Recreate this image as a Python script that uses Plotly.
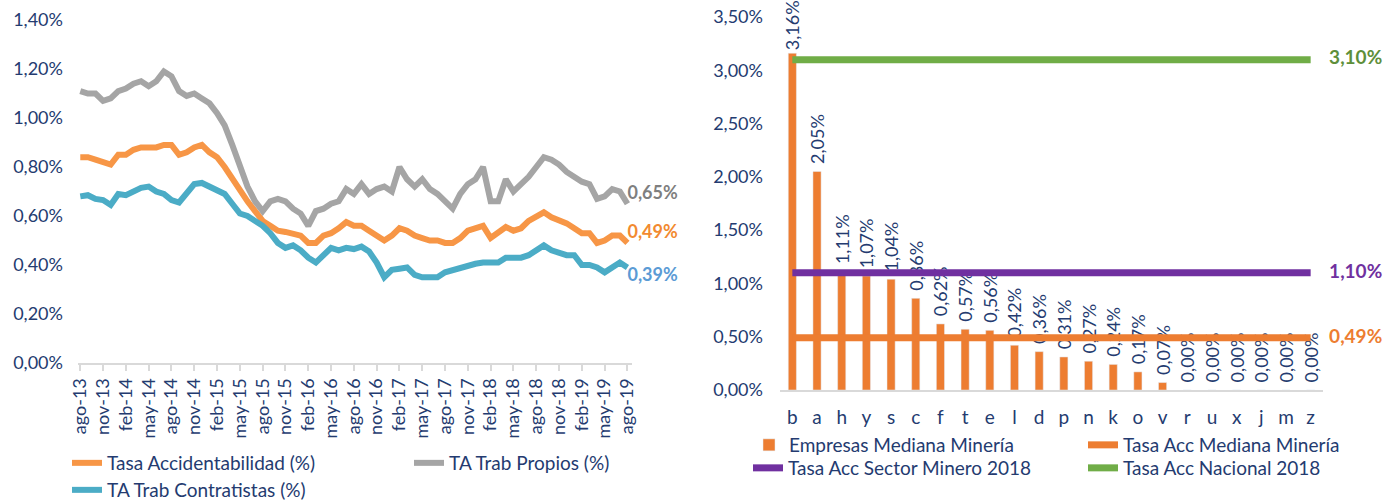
import numpy as np
import plotly.graph_objects as go

# ---------------- Left chart data (values in %) ----------------
month_tick_labels = ["ago-13", "nov-13", "feb-14", "may-14", "ago-14", "nov-14", "feb-15", "may-15",
                     "ago-15", "nov-15", "feb-16", "may-16", "ago-16", "nov-16", "feb-17", "may-17",
                     "ago-17", "nov-17", "feb-18", "may-18", "ago-18", "nov-18", "feb-19", "may-19",
                     "ago-19"]

tasa_accidentabilidad = [0.84, 0.84, 0.83, 0.82, 0.81, 0.85, 0.85, 0.87, 0.88, 0.88, 0.88, 0.89, 0.89,
                         0.85, 0.86, 0.88, 0.89, 0.86, 0.84, 0.80, 0.75, 0.70, 0.66, 0.62, 0.58, 0.56,
                         0.54, 0.535, 0.53, 0.52, 0.49, 0.49, 0.52, 0.53, 0.55, 0.575, 0.56, 0.56, 0.54,
                         0.52, 0.50, 0.52, 0.55, 0.54, 0.52, 0.51, 0.50, 0.50, 0.49, 0.49, 0.51, 0.54,
                         0.55, 0.56, 0.51, 0.53, 0.555, 0.54, 0.55, 0.58, 0.60, 0.615, 0.595, 0.585,
                         0.57, 0.55, 0.53, 0.53, 0.49, 0.50, 0.52, 0.52, 0.49]

ta_trab_propios = [1.11, 1.10, 1.10, 1.07, 1.08, 1.11, 1.12, 1.14, 1.15, 1.13, 1.15, 1.19, 1.17, 1.11,
                   1.09, 1.10, 1.08, 1.06, 1.02, 0.97, 0.89, 0.80, 0.72, 0.66, 0.62, 0.66, 0.67, 0.66,
                   0.63, 0.61, 0.56, 0.62, 0.63, 0.65, 0.66, 0.71, 0.69, 0.73, 0.69, 0.71, 0.72, 0.70,
                   0.80, 0.75, 0.72, 0.75, 0.71, 0.69, 0.66, 0.63, 0.69, 0.73, 0.75, 0.80, 0.66, 0.66,
                   0.75, 0.70, 0.73, 0.76, 0.80, 0.84, 0.83, 0.81, 0.78, 0.76, 0.74, 0.73, 0.67, 0.68,
                   0.71, 0.70, 0.65]

ta_trab_contratistas = [0.68, 0.685, 0.67, 0.665, 0.645, 0.69, 0.685, 0.70, 0.715, 0.72, 0.70, 0.69,
                        0.665, 0.655, 0.69, 0.73, 0.735, 0.72, 0.70, 0.69, 0.65, 0.61, 0.60, 0.58,
                        0.56, 0.53, 0.49, 0.47, 0.48, 0.46, 0.43, 0.41, 0.44, 0.47, 0.46, 0.47, 0.465,
                        0.475, 0.455, 0.41, 0.35, 0.38, 0.385, 0.39, 0.36, 0.35, 0.35, 0.35, 0.37,
                        0.38, 0.39, 0.40, 0.405, 0.41, 0.41, 0.41, 0.43, 0.43, 0.43, 0.44, 0.46, 0.48,
                        0.46, 0.45, 0.44, 0.44, 0.40, 0.40, 0.39, 0.37, 0.39, 0.41, 0.39]

# ---------------- Right chart data (values in %) ----------------
empresas = ["b", "a", "h", "y", "s", "c", "f", "t", "e", "l", "d", "p", "n", "k", "o", "v",
            "r", "u", "x", "j", "m", "z"]
empresas_valores = [3.16, 2.05, 1.11, 1.07, 1.04, 0.86, 0.62, 0.57, 0.56, 0.42, 0.36, 0.31, 0.27,
                    0.24, 0.17, 0.07, 0.00, 0.00, 0.00, 0.00, 0.00, 0.00]
tasa_acc_mediana = 0.49
tasa_acc_sector_minero_2018 = 1.10
tasa_acc_nacional_2018 = 3.10

NAVY = "#243B70"
FONT = "Lato"
NB = "\u00a0"

def frac(vals):
    return list(np.array(vals, dtype=float) / 100.0)

def pct(v):
    return ("%.2f%%" % v).replace(".", ",")

months = list(range(len(tasa_accidentabilidad)))
tick_positions = list(range(0, len(months), 3))

fig = go.Figure()

def add_left(name, vals, color, label_color, pos, legend):
    y = frac(vals)
    txt = [""] * (len(y) - 1) + [pct(vals[-1])]
    fig.add_trace(go.Scatter(
        x=months, y=y, mode="lines+text", name=name,
        line=dict(color=color, width=6),
        text=txt, textposition=pos,
        textfont=dict(color=label_color, size=18, family=FONT, weight="bold"),
        xaxis="x", yaxis="y", legend=legend, cliponaxis=False,
    ))

add_left("Tasa Accidentabilidad (%)", tasa_accidentabilidad, "#F79646", "#F28A30", "top right", "legend")
add_left("TA Trab Propios (%)", ta_trab_propios, "#A5A5A5", "#7F7F7F", "top right", "legend")
add_left("TA Trab Contratistas (%)", ta_trab_contratistas, "#4BACC6", "#5B9BD5", "bottom right", "legend3")

# Right chart: bar labels sit a little above each bar (the tallest one is squeezed in by the top edge)
bar_label_pad = [0] + [1] * (len(empresas) - 1)
bar_labels = [NB * p + pct(v) for p, v in zip(bar_label_pad, empresas_valores)]

fig.add_trace(go.Bar(
    x=empresas, y=frac(empresas_valores), name="Empresas Mediana Minería",
    marker=dict(color="#ED7D31"), width=0.33,
    text=bar_labels, texttemplate="%{text}", textposition="outside", textangle=-90,
    constraintext="none", cliponaxis=False,
    textfont=dict(color=NAVY, size=18, family=FONT),
    xaxis="x2", yaxis="y2", legend="legend2",
))

def add_right_line(name, value, color, label_color, legend):
    n = len(empresas)
    txt = [""] * (n - 1) + [NB * 4 + pct(value)]
    fig.add_trace(go.Scatter(
        x=empresas, y=[value / 100.0] * n, mode="lines+text", name=name,
        line=dict(color=color, width=7),
        text=txt, textposition="middle right",
        textfont=dict(color=label_color, size=19, family=FONT, weight="bold"),
        xaxis="x2", yaxis="y2", legend=legend, cliponaxis=False,
    ))

add_right_line("Tasa Acc Mediana Minería", tasa_acc_mediana, "#ED7D31", "#ED7D31", "legend5")
add_right_line("Tasa Acc Sector Minero 2018", tasa_acc_sector_minero_2018, "#7030A0", "#7030A0", "legend4")
add_right_line("Tasa Acc Nacional 2018", tasa_acc_nacional_2018, "#70AD47", "#5E8F3A", "legend6")

W, H = 1390, 502
legend_common = dict(orientation="h", font=dict(color=NAVY, size=19, family=FONT),
                     bgcolor="rgba(0,0,0,0)", xanchor="left", yanchor="middle",
                     traceorder="normal")

fig.update_layout(
    width=W, height=H,
    margin=dict(l=0, r=0, t=0, b=0, autoexpand=False),
    paper_bgcolor="white", plot_bgcolor="white",
    separators=",.",
    font=dict(family=FONT, color=NAVY, size=16),
    xaxis=dict(
        domain=[78 / W, 632 / W], range=[-0.3, 72.6], automargin=False,
        tickvals=tick_positions, ticktext=month_tick_labels, tickangle=-90,
        ticks="outside", ticklen=6, tickcolor="#D9D9D9", tickwidth=2,
        showline=True, linecolor="#D9D9D9", linewidth=2,
        showgrid=False, zeroline=False,
        tickfont=dict(color=NAVY, size=18, family=FONT),
    ),
    yaxis=dict(
        domain=[1 - 363 / H, 1 - 20 / H], range=[0, 0.014], automargin=False,
        tickvals=[0, 0.002, 0.004, 0.006, 0.008, 0.010, 0.012, 0.014], tickformat=".2%",
        showgrid=False, zeroline=False, showline=False, ticks="",
        ticklabelstandoff=14,
        tickfont=dict(color=NAVY, size=18, family=FONT),
    ),
    xaxis2=dict(
        domain=[780 / W, 1323 / W], anchor="y2", type="category", automargin=False,
        range=[-0.5, 21.5],
        showline=True, linecolor="#D9D9D9", linewidth=2,
        showgrid=False, zeroline=False, ticks="",
        ticklabelstandoff=9,
        tickfont=dict(color=NAVY, size=19, family=FONT),
    ),
    yaxis2=dict(
        domain=[1 - 390 / H, 1 - 17 / H], range=[0, 0.035], anchor="x2", automargin=False,
        tickvals=[0, 0.005, 0.010, 0.015, 0.020, 0.025, 0.030, 0.035], tickformat=".2%",
        showgrid=False, zeroline=False, showline=False, ticks="",
        ticklabelstandoff=16,
        tickfont=dict(color=NAVY, size=18, family=FONT),
    ),
    legend=dict(x=67 / W, y=1 - 463 / H, entrywidth=297, entrywidthmode="pixels", **legend_common),
    legend3=dict(x=67 / W, y=1 - 490 / H, **legend_common),
    legend2=dict(x=749 / W, y=1 - 445 / H, **legend_common),
    legend4=dict(x=748 / W, y=1 - 468 / H, **legend_common),
    legend5=dict(x=1083 / W, y=1 - 445 / H, **legend_common),
    legend6=dict(x=1083 / W, y=1 - 468 / H, **legend_common),
)

fig.write_html("out.html", config={"displayModeBar": False},
               post_script="document.body.style.margin='0';")
